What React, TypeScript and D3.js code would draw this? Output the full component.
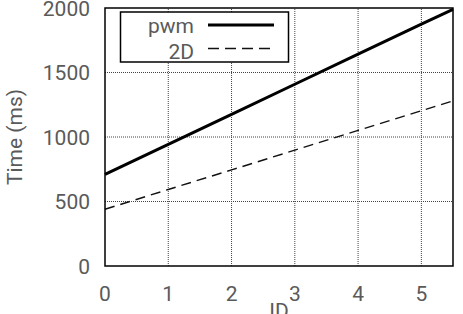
import React from "react";
import * as d3 from "d3";

const xValues = [0, 1, 2, 3, 4, 5, 5.5];
const pwmValues = [710, 943, 1176, 1409, 1642, 1875, 1990];
const twoDValues = [440, 593, 745, 898, 1051, 1204, 1280];
const xTicks = [0, 1, 2, 3, 4, 5];
const yTicks = [0, 500, 1000, 1500, 2000];
const seriesNames = ["pwm", "2D"];

const W = 463;
const H = 314;
const M = { left: 105, right: 10, top: 8, bottom: 48 };

export default function App() {
  const x = d3.scaleLinear().domain([0, 5.5]).range([M.left, W - M.right]);
  const y = d3.scaleLinear().domain([0, 2000]).range([H - M.bottom, M.top]);
  const line = d3
    .line<number>()
    .x((_, i) => x(xValues[i]))
    .y((d) => y(d));
  const font = "Roboto, 'Liberation Sans', sans-serif";
  const txt = "#5a5a5a";
  const fs = 21;
  const x0 = x(0), x1 = x(5.5), yb = y(0), yt = y(2000);
  return (
    <svg
      width={W}
      height={H}
      style={{ position: "absolute", left: 0, top: 0 }}
      fontFamily={font}
    >
      <rect width={W} height={H} fill="#fff" />
      {xTicks.slice(1).map((t) => (
        <line key={"gx" + t} x1={x(t)} x2={x(t)} y1={yb} y2={yt} stroke="#444" strokeWidth={1} strokeDasharray="1,1" />
      ))}
      {yTicks.slice(1, -1).map((t) => (
        <line key={"gy" + t} x1={x0} x2={x1} y1={y(t)} y2={y(t)} stroke="#444" strokeWidth={1} strokeDasharray="1,1" />
      ))}
      <path d={line(twoDValues) || ""} fill="none" stroke="#111" strokeWidth={1.4} strokeDasharray="10,6" />
      <path d={line(pwmValues) || ""} fill="none" stroke="#000" strokeWidth={3} />
      <rect x={x0} y={yt} width={x1 - x0} height={yb - yt} fill="none" stroke="#000" strokeWidth={1.5} />
      {yTicks.map((t) => (
        <text key={"ty" + t} x={x0 - 15} y={y(t)} dy="0.38em" textAnchor="end" fontSize={fs} fill={txt}>
          {t}
        </text>
      ))}
      {xTicks.map((t) => (
        <text key={"tx" + t} x={x(t)} y={yb + 35} textAnchor="middle" fontSize={fs} fill={txt}>
          {t}
        </text>
      ))}
      <text x={(x0 + x1) / 2} y={yb + 37} dy="0.71em" textAnchor="middle" fontSize={fs} fill={txt}>
        ID
      </text>
      <text transform={`translate(22,${(yt + yb) / 2}) rotate(-90)`} textAnchor="middle" fontSize={fs} fill={txt}>
        Time (ms)
      </text>
      <rect x={120.5} y={12} width={168} height={50} fill="#fff" stroke="#000" strokeWidth={1.5} />
      <text x={194} y={33} textAnchor="end" fontSize={fs} fill={txt}>
        {seriesNames[0]}
      </text>
      <line x1={208} x2={274} y1={25} y2={25} stroke="#000" strokeWidth={3} />
      <text x={194} y={59} textAnchor="end" fontSize={fs} fill={txt}>
        {seriesNames[1]}
      </text>
      <line x1={208} x2={274} y1={48.5} y2={48.5} stroke="#111" strokeWidth={1.4} strokeDasharray="11,6" />
    </svg>
  );
}
